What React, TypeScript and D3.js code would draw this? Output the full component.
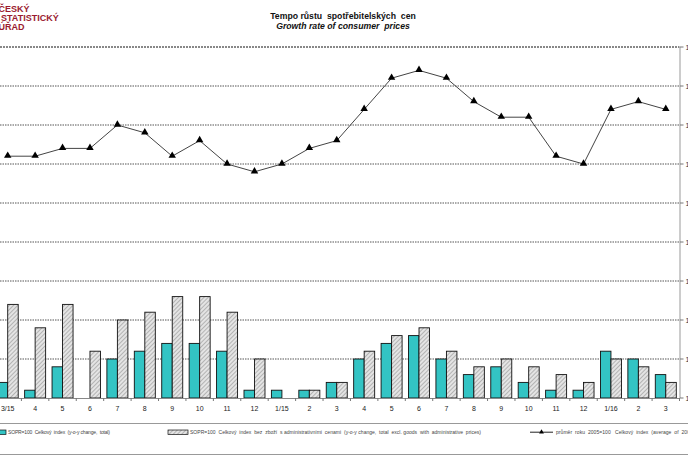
import React from "react";
import * as d3 from "d3";

const categories = ["3/15","4","5","6","7","8","9","10","11","12","1/15","2","3","4","5","6","7","8","9","10","11","12","1/16","2","3"];
const totalYoY = [0.2,0.1,0.4,0.0,0.5,0.6,0.7,0.7,0.6,0.1,0.1,0.1,0.2,0.5,0.7,0.8,0.5,0.3,0.4,0.2,0.1,0.1,0.6,0.5,0.3];
const exclAdminYoY = [1.2,0.9,1.2,0.6,1.0,1.1,1.3,1.3,1.1,0.5,0.0,0.1,0.2,0.6,0.8,0.9,0.6,0.4,0.5,0.4,0.3,0.2,0.5,0.4,0.2];
const index2005 = [123.1,123.1,123.2,123.2,123.5,123.4,123.1,123.3,123.0,122.9,123.0,123.2,123.3,123.7,124.1,124.2,124.1,123.8,123.6,123.6,123.1,123.0,123.7,123.8,123.7];
const leftTicks = [0,0.5,1,1.5,2,2.5,3,3.5,4,4.5];
const rightTicks = [120,120.5,121,121.5,122,122.5,123,123.5,124,124.5];

const W = 688, H = 459;
const TOP = 47, BOTTOM = 398, LEFT = -6, RIGHT = 679.5;

export default function App() {
  const x = d3.scaleBand().domain(categories.map((c, i) => String(i))).range([LEFT, RIGHT]);
  const step = x.step();
  const yL = d3.scaleLinear().domain([0, 4.5]).range([BOTTOM, TOP]);
  const yR = d3.scaleLinear().domain([120, 124.5]).range([BOTTOM, TOP]);
  const cx = (i: number) => (x(String(i)) as number) + step / 2;
  const bw = 10.5;
  const line = d3.line<number>().x((_, i) => cx(i)).y((d) => yR(d));
  const tri = d3.symbol().type(d3.symbolTriangle).size(24)();
  const font = "Arial, 'Liberation Sans', sans-serif";

  return (
    <svg width={W} height={H} style={{ position: "absolute", left: 0, top: 0, background: "#fff" }} fontFamily={font}>
      <defs>
        <pattern id="hatch" width="3" height="3" patternUnits="userSpaceOnUse" patternTransform="rotate(45)">
          <rect width="3" height="3" fill="#e4e4e4" />
          <line x1="0" y1="0" x2="0" y2="3" stroke="#8a8a8a" strokeWidth="1.1" />
        </pattern>
      </defs>
      <rect x={0} y={0} width={W} height={H} fill="#fff" />

      {/* logo */}
      <g fill="#9b1b30" fontWeight="bold" fontSize={9}>
        <text x={-1.5} y={12}>ČESKÝ</text>
        <text x={1} y={20.5}>STATISTICKÝ</text>
        <text x={-1.5} y={29.5}>ÚŘAD</text>
      </g>

      {/* title */}
      <text x={343} y={18.5} textAnchor="middle" fontWeight="bold" fontSize={8.7} fill="#111" style={{ whiteSpace: "pre" }}>Tempo růstu  spotřebitelských  cen</text>
      <text x={343} y={29} textAnchor="middle" fontStyle="italic" fontWeight="bold" fontSize={8.7} fill="#111" style={{ whiteSpace: "pre" }}>Growth rate of consumer  prices</text>

      {/* gridlines */}
      {leftTicks.slice(1).map((t) => (
        <line key={"g" + t} x1={0} x2={RIGHT} y1={yL(t)} y2={yL(t)}
          stroke={t === 4.5 ? "#111" : "#555"} strokeWidth={1} strokeDasharray={t === 4.5 ? "2,1" : "1.5,1"} />
      ))}

      {/* right axis */}
      <line x1={RIGHT + 0.5} x2={RIGHT + 0.5} y1={TOP} y2={BOTTOM} stroke="#999" />
      {rightTicks.map((t) => (
        <g key={"r" + t}>
          <line x1={RIGHT + 0.5} x2={RIGHT + 4} y1={yR(t)} y2={yR(t)} stroke="#777" />
          <text x={RIGHT + 6} y={yR(t) + 2.5} fontSize={7} fill="#333">{t.toFixed(1).replace(".", ",")}</text>
        </g>
      ))}

      {/* bars */}
      {totalYoY.map((v, i) => v > 0 ? (
        <rect key={"t" + i} x={cx(i) - bw} y={yL(v)} width={bw} height={BOTTOM - yL(v)} fill="#33c4c4" stroke="#111" strokeWidth={0.9} />
      ) : null)}
      {exclAdminYoY.map((v, i) => v > 0 ? (
        <rect key={"h" + i} x={cx(i)} y={yL(v)} width={bw} height={BOTTOM - yL(v)} fill="url(#hatch)" stroke="#111" strokeWidth={0.9} />
      ) : null)}

      {/* bottom axis */}
      <line x1={0} x2={RIGHT + 0.5} y1={BOTTOM + 0.5} y2={BOTTOM + 0.5} stroke="#888" />
      {categories.map((c, i) => (
        <g key={"c" + i}>
          <line x1={(x(String(i)) as number) + step} x2={(x(String(i)) as number) + step} y1={BOTTOM} y2={BOTTOM + 3} stroke="#777" />
          <text x={cx(i)} y={410.5} textAnchor="middle" fontSize={7} fill="#222">{c}</text>
        </g>
      ))}

      {/* line */}
      <path d={line(index2005) as string} fill="none" stroke="#444" strokeWidth={1} />
      {index2005.map((v, i) => (
        <path key={"m" + i} d={tri as string} transform={`translate(${cx(i)},${yR(v) - 0.5})`} fill="#000" />
      ))}

      {/* legend */}
      <line x1={0} x2={W} y1={423.5} y2={423.5} stroke="#999" />
      <line x1={0} x2={W} y1={454.5} y2={454.5} stroke="#999" />
      <rect x={-4} y={430} width={10} height={4.5} fill="#33c4c4" stroke="#111" strokeWidth={0.7} />
      <text x={8} y={434.3} fontSize={5} fill="#444" textLength={102} lengthAdjust="spacing" style={{ whiteSpace: "pre" }}>SOPR=100  Celkový  index  (y-o-y change,  total)</text>
      <rect x={168} y={430} width={20} height={4.5} fill="url(#hatch)" stroke="#111" strokeWidth={0.7} />
      <text x={190} y={434.3} fontSize={5} fill="#444" textLength={291} lengthAdjust="spacing" style={{ whiteSpace: "pre" }}>SOPR=100  Celkový  index  bez  zboží  s administrativními  cenami  (y-o-y change,  total  excl. goods  with  administrative  prices)</text>
      <line x1={530} x2={553} y1={432.2} y2={432.2} stroke="#222" />
      <path d={d3.symbol().type(d3.symbolTriangle).size(10)() as string} transform="translate(541.5,432)" fill="#000" />
      <text x={556} y={434.3} fontSize={5} fill="#444" textLength={150} lengthAdjust="spacing" style={{ whiteSpace: "pre" }}>průměr  roku  2005=100   Celkový  index  (average  of  2005=100)</text>
    </svg>
  );
}
